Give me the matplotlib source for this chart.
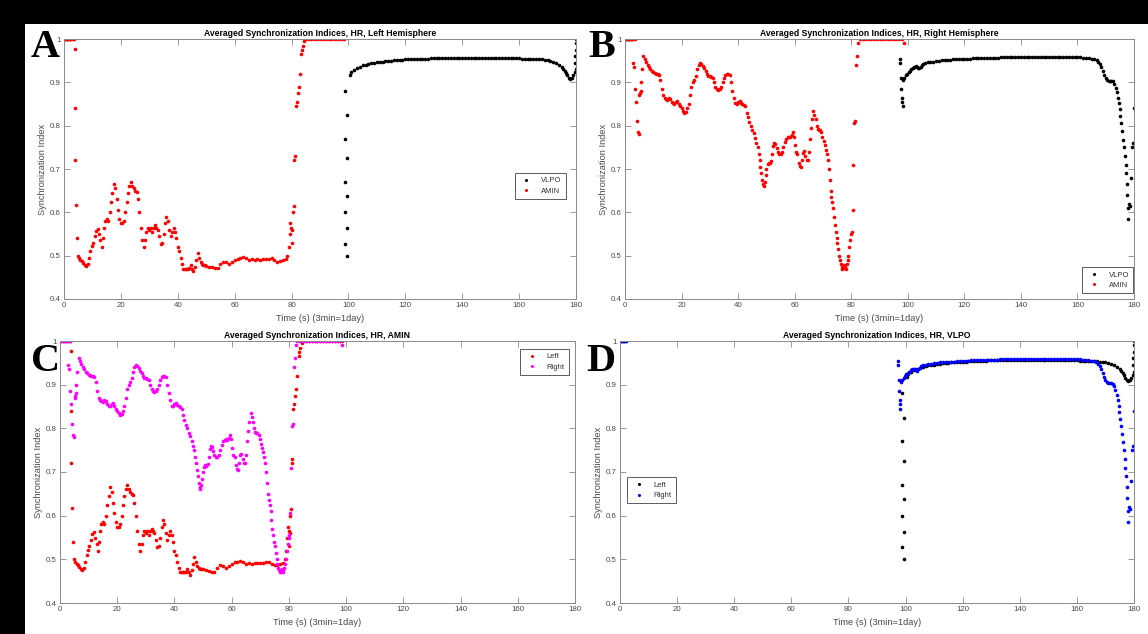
import matplotlib
matplotlib.use('Agg')
import matplotlib.pyplot as plt
from matplotlib.patches import Rectangle

plt.rcParams['font.family'] = ['Liberation Sans', 'DejaVu Sans']

# ---------------- data (time s, synchronization index) ----------------
amin_left = [
    (0, 1.0), (0.5, 1.0), (1, 1.0), (1.5, 1.0), (2, 1.0), (2.5, 1.0), (3, 1.0), (3.5, 1.0),
    (3.8, 0.976), (3.9, 0.84), (4.0, 0.72), (4.1, 0.617), (4.4, 0.54),
    (4.8, 0.50), (5.3, 0.495), (5.8, 0.49), (6.3, 0.487), (6.8, 0.483), (7.3, 0.478), (7.8, 0.476),
    (8.3, 0.48), (8.8, 0.495), (9.3, 0.51), (9.8, 0.522), (10.3, 0.53), (10.8, 0.545), (11.3, 0.558),
    (11.8, 0.562), (12.3, 0.55), (12.8, 0.535), (13.2, 0.52), (13.6, 0.54), (14.0, 0.565), (14.5, 0.58),
    (15.0, 0.585), (15.5, 0.58), (16.0, 0.60), (16.5, 0.625), (17.0, 0.645), (17.5, 0.665), (18.0, 0.655),
    (18.5, 0.63), (19.0, 0.605), (19.5, 0.585), (20.0, 0.575), (20.5, 0.575), (21.0, 0.58), (21.5, 0.60),
    (22.0, 0.625), (22.5, 0.645), (23.0, 0.66), (23.5, 0.67), (24.0, 0.66), (24.5, 0.655), (25.0, 0.65),
    (25.5, 0.648), (26.0, 0.63), (26.5, 0.60), (27.0, 0.565), (27.5, 0.535), (28.0, 0.52), (28.5, 0.535),
    (29.0, 0.555), (29.5, 0.565), (30.0, 0.56), (30.5, 0.565), (31.0, 0.555), (31.5, 0.565), (32.0, 0.57),
    (32.5, 0.565), (33.0, 0.56), (33.5, 0.545), (34.0, 0.528), (34.5, 0.53), (35.0, 0.55), (35.5, 0.575),
    (36.0, 0.59), (36.5, 0.58), (37.0, 0.56), (37.5, 0.545), (38.0, 0.555), (38.5, 0.565), (39.0, 0.555),
    (39.5, 0.54), (40.0, 0.52), (40.5, 0.51), (41.0, 0.495), (41.5, 0.48), (42.0, 0.47), (42.5, 0.47),
    (43.0, 0.47), (43.5, 0.47), (44.0, 0.472), (44.5, 0.478), (45.0, 0.47), (45.5, 0.465), (46.0, 0.475),
    (46.5, 0.49), (47.0, 0.505), (47.5, 0.495), (48.0, 0.485), (48.5, 0.48), (49.0, 0.478), (49.5, 0.478),
    (50.0, 0.477), (51.0, 0.475), (52.0, 0.473), (53.0, 0.472), (54.0, 0.472), (55.0, 0.48), (56.0, 0.486),
    (57.0, 0.485), (58.0, 0.48), (59.0, 0.485), (60.0, 0.49), (61.0, 0.493), (62.0, 0.495), (63.0, 0.496),
    (64.0, 0.494), (65.0, 0.49), (66.0, 0.492), (67.0, 0.489), (68.0, 0.492), (69.0, 0.491), (70.0, 0.492),
    (71.0, 0.492), (72.0, 0.493), (73.0, 0.495), (74.0, 0.489), (75.0, 0.486), (76.0, 0.487), (77.0, 0.49),
    (78.0, 0.492), (78.5, 0.50), (79.0, 0.52), (79.3, 0.55), (79.6, 0.575), (79.9, 0.565), (80.1, 0.53),
    (80.3, 0.56), (80.5, 0.60), (80.7, 0.615), (81.0, 0.72), (81.2, 0.73), (81.6, 0.845), (81.9, 0.855),
    (82.3, 0.875), (82.6, 0.89), (83.0, 0.92), (83.4, 0.965), (83.7, 0.975), (84.0, 0.985), (84.5, 0.995),
    (85, 1.0), (86, 1.0), (87, 1.0), (88, 1.0), (89, 1.0), (90, 1.0), (91, 1.0), (92, 1.0), (93, 1.0),
    (94, 1.0), (95, 1.0), (96, 1.0), (97, 1.0), (98, 1.0), (98.5, 1.0),
]

amin_right = [
    (0, 1.0), (0.5, 1.0), (1, 1.0), (1.5, 1.0), (2, 1.0), (2.5, 1.0), (3, 1.0), (3.5, 1.0),
    (2.8, 0.945), (3.2, 0.935), (3.6, 0.885), (3.9, 0.855), (4.2, 0.81), (4.5, 0.785), (4.8, 0.78),
    (5.1, 0.87), (5.3, 0.875), (5.5, 0.88), (5.7, 0.90), (6.0, 0.93),
    (6.5, 0.96), (7.0, 0.955), (7.5, 0.947), (8.0, 0.94), (8.5, 0.935), (9.0, 0.93), (9.5, 0.926),
    (10.0, 0.923), (10.5, 0.921), (11.0, 0.92), (11.5, 0.92), (12.0, 0.918), (12.5, 0.905), (13.0, 0.885),
    (13.5, 0.87), (14.0, 0.865), (14.5, 0.862), (15.0, 0.86), (15.5, 0.865), (16.0, 0.862), (16.5, 0.855),
    (17.0, 0.852), (17.5, 0.85), (18.0, 0.855), (18.5, 0.858), (19.0, 0.85), (19.5, 0.845), (20.0, 0.84),
    (20.5, 0.835), (21.0, 0.83), (21.5, 0.832), (22.0, 0.84), (22.5, 0.85), (23.0, 0.87), (23.5, 0.89),
    (24.0, 0.90), (24.5, 0.905), (25.0, 0.915), (25.5, 0.93), (26.0, 0.94), (26.5, 0.945), (27.0, 0.943),
    (27.5, 0.938), (28.0, 0.932), (28.5, 0.926), (29.0, 0.92), (29.5, 0.915), (30.0, 0.915), (30.5, 0.913),
    (31.0, 0.91), (31.5, 0.90), (32.0, 0.89), (32.5, 0.885), (33.0, 0.883), (33.5, 0.885), (34.0, 0.89),
    (34.5, 0.90), (35.0, 0.91), (35.5, 0.917), (36.0, 0.92), (36.5, 0.92), (37.0, 0.918), (37.5, 0.90),
    (38.0, 0.88), (38.5, 0.865), (39.0, 0.852), (39.5, 0.85), (40.0, 0.855), (40.5, 0.858), (41.0, 0.853),
    (41.5, 0.85), (42.0, 0.848), (42.5, 0.845), (43.0, 0.83), (43.5, 0.82), (44.0, 0.808), (44.5, 0.80),
    (45.0, 0.79), (45.5, 0.782), (46.0, 0.772), (46.5, 0.76), (47.0, 0.75), (47.3, 0.735), (47.6, 0.72),
    (47.9, 0.705), (48.2, 0.69), (48.5, 0.675), (48.8, 0.665), (49.1, 0.66), (49.4, 0.67), (49.7, 0.685),
    (50.0, 0.70), (50.4, 0.712), (50.8, 0.715), (51.2, 0.713), (51.6, 0.718), (52.0, 0.735), (52.4, 0.752),
    (52.8, 0.76), (53.2, 0.758), (53.6, 0.748), (54.0, 0.74), (54.5, 0.735), (55.0, 0.735), (55.5, 0.74),
    (56.0, 0.75), (56.5, 0.762), (57.0, 0.77), (57.5, 0.773), (58.0, 0.775), (58.5, 0.773), (59.0, 0.778),
    (59.4, 0.785), (59.8, 0.775), (60.2, 0.755), (60.6, 0.74), (61.0, 0.735), (61.4, 0.715), (61.8, 0.706),
    (62.2, 0.705), (62.6, 0.72), (63.0, 0.738), (63.4, 0.742), (63.8, 0.73), (64.2, 0.72), (64.6, 0.72),
    (65.0, 0.74), (65.4, 0.77), (65.8, 0.795), (66.2, 0.815), (66.6, 0.835), (67.0, 0.825), (67.4, 0.815),
    (67.8, 0.80), (68.2, 0.792), (68.6, 0.79), (69.0, 0.79), (69.4, 0.785), (69.8, 0.775), (70.2, 0.765),
    (70.6, 0.755), (71.0, 0.745), (71.4, 0.735), (71.8, 0.72), (72.1, 0.70), (72.4, 0.675), (72.7, 0.65),
    (73.0, 0.635), (73.3, 0.625), (73.6, 0.61), (73.9, 0.59), (74.2, 0.57), (74.5, 0.555), (74.8, 0.54),
    (75.1, 0.53), (75.4, 0.515), (75.7, 0.50), (76.0, 0.49), (76.3, 0.48), (76.6, 0.475), (76.9, 0.47),
    (77.2, 0.472), (77.5, 0.478), (77.8, 0.475), (78.1, 0.47), (78.4, 0.48), (78.7, 0.49), (79.0, 0.50),
    (79.3, 0.52), (79.6, 0.535), (79.9, 0.55), (80.2, 0.555), (80.5, 0.605), (80.8, 0.71), (81.1, 0.805),
    (81.4, 0.81), (81.8, 0.94), (82.1, 0.96), (82.5, 0.99),
    (83, 1.0), (84, 1.0), (85, 1.0), (86, 1.0), (87, 1.0), (88, 1.0), (89, 1.0), (90, 1.0), (91, 1.0),
    (92, 1.0), (93, 1.0), (94, 1.0), (95, 1.0), (96, 1.0), (97, 1.0), (98, 1.0), (98.5, 0.99),
]

vlpo_left = [
    (0, 1.0), (0.5, 1.0), (1, 1.0), (1.5, 1.0), (2, 1.0),
    (98.8, 0.88), (99.6, 0.824), (98.8, 0.77), (99.6, 0.725), (98.8, 0.67), (99.6, 0.638),
    (98.8, 0.60), (99.6, 0.563), (98.8, 0.528), (99.6, 0.50),
    (100.4, 0.918), (101, 0.924), (102, 0.929), (103, 0.933), (104, 0.936), (105, 0.939), (106, 0.941),
    (107, 0.943), (108, 0.944), (109, 0.945), (110, 0.946), (111, 0.947), (112, 0.948), (113, 0.949),
    (114, 0.95), (115, 0.95), (116, 0.951), (117, 0.951), (118, 0.952), (119, 0.952), (120, 0.953),
    (121, 0.953), (122, 0.954), (123, 0.954), (124, 0.954), (125, 0.955), (126, 0.955), (127, 0.955),
    (128, 0.955), (129, 0.956), (130, 0.956), (131, 0.956), (132, 0.956), (133, 0.956), (134, 0.957),
    (135, 0.957), (136, 0.957), (137, 0.957), (138, 0.957), (139, 0.957), (140, 0.957), (141, 0.957),
    (142, 0.957), (143, 0.957), (144, 0.957), (145, 0.957), (146, 0.957), (147, 0.957), (148, 0.957),
    (149, 0.957), (150, 0.957), (151, 0.957), (152, 0.957), (153, 0.957), (154, 0.957), (155, 0.957),
    (156, 0.956), (157, 0.956), (158, 0.956), (159, 0.956), (160, 0.956), (161, 0.955), (162, 0.955),
    (163, 0.955), (164, 0.955), (165, 0.954), (166, 0.954), (167, 0.954), (168, 0.953), (169, 0.952),
    (170, 0.951), (171, 0.95), (172, 0.948), (173, 0.945), (174, 0.941), (175, 0.935), (175.5, 0.931),
    (176, 0.926), (176.5, 0.921), (177, 0.916), (177.5, 0.911), (178, 0.908), (178.5, 0.91),
    (179, 0.916), (179.5, 0.923), (180, 0.93),
    (179.8, 0.945), (179.8, 0.96), (180, 0.975), (180, 0.99), (180, 1.0),
]

vlpo_right = [
    (0, 1.0), (0.5, 1.0), (1, 1.0), (1.5, 1.0), (2, 1.0),
    (97.2, 0.955), (97.3, 0.945), (97.6, 0.91), (97.7, 0.885), (98.0, 0.865), (98.1, 0.855), (98.2, 0.845),
    (98.3, 0.905), (98.8, 0.911), (99.3, 0.916), (99.8, 0.92), (100.3, 0.924), (100.8, 0.927),
    (101.3, 0.93), (101.8, 0.933), (102.3, 0.935), (102.8, 0.937), (103.3, 0.936), (103.7, 0.933),
    (104.1, 0.932), (104.5, 0.935), (105.0, 0.939), (105.5, 0.942), (106, 0.944), (107, 0.946),
    (108, 0.947), (109, 0.948), (110, 0.949), (111, 0.95), (112, 0.951), (113, 0.951), (114, 0.952),
    (115, 0.952), (116, 0.953), (117, 0.953), (118, 0.954), (119, 0.954), (120, 0.955), (121, 0.955),
    (122, 0.955), (123, 0.956), (124, 0.956), (125, 0.956), (126, 0.956), (127, 0.957), (128, 0.957),
    (129, 0.957), (130, 0.957), (131, 0.957), (132, 0.957), (133, 0.958), (134, 0.958), (135, 0.958),
    (136, 0.958), (137, 0.958), (138, 0.958), (139, 0.958), (140, 0.958), (141, 0.958), (142, 0.958),
    (143, 0.958), (144, 0.958), (145, 0.958), (146, 0.958), (147, 0.958), (148, 0.958), (149, 0.958),
    (150, 0.958), (151, 0.958), (152, 0.958), (153, 0.958), (154, 0.958), (155, 0.958), (156, 0.958),
    (157, 0.958), (158, 0.958), (159, 0.958), (160, 0.958), (161, 0.958), (162, 0.957), (163, 0.957),
    (164, 0.956), (165, 0.955), (166, 0.954), (166.8, 0.952), (167.4, 0.948), (168, 0.942),
    (168.5, 0.935), (169, 0.927), (169.5, 0.918), (170, 0.91), (170.5, 0.905), (171, 0.903),
    (171.5, 0.903), (172, 0.904), (172.5, 0.902), (173, 0.896), (173.5, 0.887), (174, 0.877),
    (174.3, 0.865), (174.6, 0.852), (174.9, 0.838), (175.2, 0.822), (175.5, 0.805), (175.8, 0.787),
    (176.1, 0.768), (176.4, 0.75), (176.7, 0.73), (177.0, 0.71), (177.2, 0.69), (177.4, 0.665),
    (177.6, 0.64), (177.8, 0.61), (178.0, 0.585), (178.3, 0.62), (178.6, 0.615), (179.0, 0.68),
    (179.4, 0.75), (179.7, 0.76), (180, 0.84),
]

x_ticks = [0, 20, 40, 60, 80, 100, 120, 140, 160, 180]
y_ticks = [0.4, 0.5, 0.6, 0.7, 0.8, 0.9, 1.0]
y_tick_labels = ['0.4', '0.5', '0.6', '0.7', '0.8', '0.9', '1']

titles = ['Averaged Synchronization Indices, HR, Left Hemisphere',
          'Averaged Synchronization Indices, HR, Right Hemisphere',
          'Averaged Synchronization Indices, HR, AMIN',
          'Averaged Synchronization Indices, HR, VLPO']
panel_letters = ['A', 'B', 'C', 'D']
x_label = 'Time (s) (3min=1day)'
y_label = 'Synchronization Index'

# ---------------- figure ----------------
W, H = 1148, 634
fig = plt.figure(figsize=(W / 100, H / 100), dpi=100)
fig.patch.set_facecolor('white')


def rect(l, r, t, b):
    return [l / W, 1 - b / H, (r - l) / W, (b - t) / H]


axes_px = [(64, 576, 39, 299), (625, 1134, 39, 299),
           (60, 575, 341, 603), (620, 1134, 341, 603)]

spine_col = '#8a8a8a'
lab_col = '#4a4a4a'


def style(ax, title):
    ax.set_xlim(0, 180)
    ax.set_ylim(0.4, 1.0)
    ax.set_xticks(x_ticks)
    ax.set_yticks(y_ticks)
    ax.set_yticklabels(y_tick_labels)
    ax.tick_params(direction='in', length=4, width=0.6, top=True, right=True,
                   color=spine_col, labelcolor=lab_col, labelsize=5.7, pad=2.5)
    for s in ax.spines.values():
        s.set_color(spine_col)
        s.set_linewidth(0.7)
    ax.set_title(title, fontsize=6.2, fontweight='bold', pad=2.5)
    ax.set_xlabel(x_label, fontsize=6.7, color=lab_col, labelpad=3)
    ax.set_ylabel(y_label, fontsize=6.7, color=lab_col, labelpad=2)


def dots(ax, pairs, color, label):
    t, v = zip(*pairs)
    ax.plot(t, v, linestyle='none', marker='o', ms=2.6, mew=0, color=color, label=label)


panels = [
    [(vlpo_left, 'black', 'VLPO'), (amin_left, 'red', 'AMIN')],
    [(vlpo_right, 'black', 'VLPO'), (amin_right, 'red', 'AMIN')],
    [(amin_left, 'red', 'Left'), (amin_right, 'magenta', 'Right')],
    [(vlpo_left, 'black', 'Left'), (vlpo_right, 'blue', 'Right')],
]
legend_loc = [('upper left', (0.880, 0.485)), ('lower right', (0.999, 0.022)),
              ('upper right', (0.988, 0.97)), ('upper left', (0.014, 0.48))]

for i in range(4):
    ax = fig.add_axes(rect(*axes_px[i]))
    for pairs, col, lab in panels[i]:
        dots(ax, pairs, col, lab)
    style(ax, titles[i])
    loc, anchor = legend_loc[i]
    leg = ax.legend(loc=loc, bbox_to_anchor=anchor, fontsize=5.5, frameon=True,
                    fancybox=False, borderaxespad=0, handlelength=2.0, handletextpad=0.9,
                    borderpad=0.55, labelspacing=0.4, markerscale=0.85)
    leg.get_frame().set_edgecolor('#333333')
    leg.get_frame().set_linewidth(0.7)
    for txt in leg.get_texts():
        txt.set_color('#333333')

# panel letters
letter_pos = [(31, 57), (588, 57), (31, 371), (586, 371)]
for L, (x, y) in zip(panel_letters, letter_pos):
    fig.text(x / W, 1 - y / H, L, fontsize=29, fontweight='bold',
             family=['Liberation Serif', 'DejaVu Serif'], ha='left', va='baseline', color='black')

# black border bands
fig.add_artist(Rectangle((0, 1 - 24 / H), 1, 24 / H, transform=fig.transFigure,
                         facecolor='black', edgecolor='none', zorder=10))
fig.add_artist(Rectangle((0, 0), 25 / W, 1, transform=fig.transFigure,
                         facecolor='black', edgecolor='none', zorder=10))

fig.savefig('out.png', dpi=100, facecolor='white')
